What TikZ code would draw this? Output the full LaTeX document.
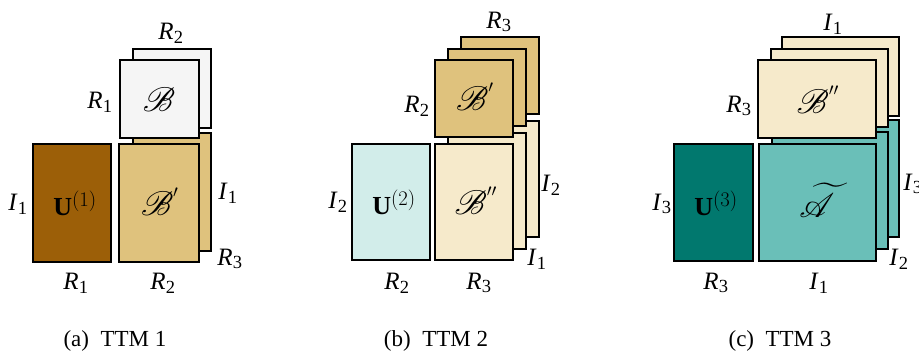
\documentclass[tikz,border=0pt]{standalone}
\usepackage{fontspec}
\setmainfont{Liberation Serif}
\usepackage{amsmath, amssymb}
\usepackage{mathrsfs}
\DeclareFontFamily{U}{rsfs}{\skewchar\font127 }
\DeclareFontShape{U}{rsfs}{m}{n}{<-> rsfs10}{}
\DeclareMathSizes{25}{25}{18.5}{14}
\DeclareMathSizes{26}{26}{20}{15}
\usepackage{tikz}
\usetikzlibrary{calc}
\definecolor{brdark}{HTML}{9C5F08}
\definecolor{brtan}{HTML}{DFC27D}
\definecolor{grlight}{HTML}{F5F5F5}
\definecolor{cream}{HTML}{F6EACB}
\definecolor{tllight}{HTML}{D2EDEA}
\definecolor{tlmid}{HTML}{6ABFB8}
\definecolor{tldark}{HTML}{01786E}
\newcommand{\lbl}[2]{\textit{#1}\textsubscript{#2}}
\tikzset{
  slab/.style={draw=black, line width=2.6pt},
  dimlab/.style={inner sep=0pt, font=\fontsize{25}{29}\selectfont},
  matlab/.style={inner sep=0pt, font=\fontsize{26}{30}\selectfont},
  scrlab/.style={inner sep=0pt, font=\fontsize{34}{38}\selectfont},
  subcap/.style={inner sep=0pt, font=\fontsize{23}{27}\selectfont},
}

\begin{document}
\begin{tikzpicture}[x=1pt, y=-1pt]
  \useasboundingbox (0,0) rectangle (919,356);
  % (a) TTM 1
  \draw[slab, fill=brtan] (133,133) rectangle (211,251);
  \draw[slab, fill=brtan] (119,144) rectangle (199,262);
  \draw[slab, fill=grlight] (133,49) rectangle (211,128);
  \draw[slab, fill=grlight] (120,60) rectangle (199,138);
  \draw[slab, fill=brdark] (33,144) rectangle (111,262);
  \node[matlab] (a-U) at (75,203) {$\mathbf{U}^{(1)}$};
  \node[scrlab] (a-B) at (159,100) {$\mathscr{B}$};
  \node[scrlab] (a-Bp) at (160,202) {$\mathscr{B}^{'}$};
  \node[dimlab] (a-t) at (171,33) {\lbl{R}{2}};
  \node[dimlab] (a-l1) at (100,102) {\lbl{R}{1}};
  \node[dimlab] (a-l2) at (18,204) {\lbl{I}{1}};
  \node[dimlab] (a-r1) at (228,193) {\lbl{I}{1}};
  \node[dimlab] (a-r2) at (230,259) {\lbl{R}{3}};
  \node[dimlab] (a-b1) at (76,283) {\lbl{R}{1}};
  \node[dimlab] (a-b2) at (163,283) {\lbl{R}{2}};
  \node[subcap] (a-cap) at (115,341) {(a)\ \ TTM 1};
  % (b) TTM 2
  \draw[slab, fill=cream] (461,121) rectangle (539,237);
  \draw[slab, fill=cream] (448,133) rectangle (526,249);
  \draw[slab, fill=cream] (435,144) rectangle (513,260);
  \draw[slab, fill=brtan] (461,37) rectangle (539,114);
  \draw[slab, fill=brtan] (448,49) rectangle (526,126);
  \draw[slab, fill=brtan] (435,60) rectangle (513,137);
  \draw[slab, fill=tllight] (352,144) rectangle (430,260);
  \node[matlab] (b-U) at (394,202) {$\mathbf{U}^{(2)}$};
  \node[scrlab] (b-Bp) at (475,97) {$\mathscr{B}^{'}$};
  \node[scrlab] (b-Bpp) at (476,201) {$\mathscr{B}^{''}$};
  \node[dimlab] (b-t) at (499,22) {\lbl{R}{3}};
  \node[dimlab] (b-l1) at (417,106) {\lbl{R}{2}};
  \node[dimlab] (b-l2) at (338,202) {\lbl{I}{2}};
  \node[dimlab] (b-r1) at (551,185) {\lbl{I}{2}};
  \node[dimlab] (b-r2) at (537,259) {\lbl{I}{1}};
  \node[dimlab] (b-b1) at (397,283) {\lbl{R}{2}};
  \node[dimlab] (b-b2) at (479,283) {\lbl{R}{3}};
  \node[subcap] (b-cap) at (436,341) {(b)\ \ TTM 2};
  % (c) TTM 3
  \draw[slab, fill=tlmid] (784,120) rectangle (899,237);
  \draw[slab, fill=tlmid] (772,132) rectangle (888,249);
  \draw[slab, fill=tlmid] (759,144) rectangle (876,261);
  \draw[slab, fill=cream] (782,37) rectangle (899,116);
  \draw[slab, fill=cream] (771,49) rectangle (888,127);
  \draw[slab, fill=cream] (758,60) rectangle (876,138);
  \draw[slab, fill=tldark] (674,144) rectangle (753,261);
  \node[matlab] (c-U) at (716,203) {$\mathbf{U}^{(3)}$};
  \node[scrlab] (c-Bpp) at (818,100) {$\mathscr{B}^{''}$};
  \node[scrlab] (c-A) at (817,200) {$\widetilde{\mathscr{A}}$};
  \node[dimlab] (c-t) at (833,24) {\lbl{I}{1}};
  \node[dimlab] (c-l1) at (739,106) {\lbl{R}{3}};
  \node[dimlab] (c-l2) at (662,204) {\lbl{I}{3}};
  \node[dimlab] (c-r1) at (913,184) {\lbl{I}{3}};
  \node[dimlab] (c-r2) at (899,259) {\lbl{I}{2}};
  \node[dimlab] (c-b1) at (716,283) {\lbl{R}{3}};
  \node[dimlab] (c-b2) at (819,283) {\lbl{I}{1}};
  \node[subcap] (c-cap) at (780,341) {(c)\ \ TTM 3};
\end{tikzpicture}
\end{document}
